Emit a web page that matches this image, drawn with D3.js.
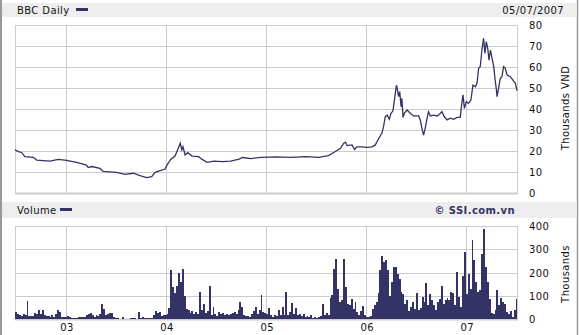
<!DOCTYPE html>
<html>
<head>
<meta charset="utf-8">
<script src="https://d3js.org/d3.v7.min.js"></script>
<style>
body { margin: 0; background: #fff; }
text { font-family: "DejaVu Sans", Verdana, sans-serif; font-size: 10px; fill: #111; letter-spacing: 0.4px; }
</style>
</head>
<body>
<script>
// price points, thousands VND
var priceDates = ["2002-06-29","2002-07-11","2002-07-23","2002-08-04","2002-09-04","2002-09-16","2002-11-04","2002-12-04",
  "2003-01-03","2003-02-09","2003-03-17","2003-03-23","2003-04-05","2003-05-05","2003-05-17","2003-07-05","2003-08-04",
  "2003-09-04","2003-09-28","2003-10-23","2003-11-10","2003-11-22","2003-12-10","2003-12-28",
  "2004-01-03","2004-01-18","2004-02-03","2004-02-15","2004-02-22","2004-02-28","2004-03-03","2004-03-11","2004-03-20",
  "2004-04-05","2004-04-29","2004-05-12","2004-05-30","2004-06-24","2004-07-25","2004-08-24","2004-09-24","2004-10-06",
  "2004-11-06","2004-12-13",
  "2005-02-06","2005-04-01","2005-05-25","2005-07-11","2005-08-16","2005-09-07","2005-09-29","2005-10-11","2005-10-17",
  "2005-10-23","2005-11-10","2005-11-19","2005-11-28","2005-12-16",
  "2006-01-03","2006-01-22","2006-02-03","2006-02-09","2006-02-19","2006-02-27","2006-03-05","2006-03-11","2006-03-18",
  "2006-03-26","2006-04-01","2006-04-08","2006-04-13","2006-04-21","2006-04-25","2006-04-29","2006-05-03","2006-05-08",
  "2006-05-11","2006-05-15","2006-05-21","2006-05-30","2006-06-11","2006-06-23","2006-07-11","2006-07-17","2006-07-23",
  "2006-07-29","2006-08-04","2006-08-11","2006-08-16","2006-08-23","2006-09-04","2006-09-16","2006-09-28","2006-10-04",
  "2006-10-13","2006-10-23","2006-11-04","2006-11-16","2006-11-28","2006-12-10","2006-12-14","2006-12-20","2006-12-25",
  "2007-01-01","2007-01-09","2007-01-18","2007-01-25","2007-02-03","2007-02-09","2007-02-15","2007-02-21","2007-02-27",
  "2007-03-05","2007-03-10","2007-03-15","2007-03-20","2007-03-25","2007-03-30","2007-04-05","2007-04-11","2007-04-17",
  "2007-04-21","2007-04-23","2007-04-29","2007-05-05","2007-05-11","2007-05-17","2007-05-23","2007-05-30","2007-06-11",
  "2007-06-20","2007-06-29","2007-07-05"];
var priceValues = [20.5,19.7,19.3,17.3,17.0,15.7,15.2,16.0,
  15.5,14.6,13.3,12.1,12.6,11.7,10.3,9.8,8.9,
  9.4,8.3,7.3,7.8,9.8,10.6,11.3,
  12.9,16.0,17.6,21.3,23.7,20.5,22.0,18.1,19.2,
  17.6,17.3,16.0,14.6,15.2,14.9,15.2,16.1,16.9,
  16.4,17.0,
  17.2,17.0,17.3,17.0,17.8,19.5,21.3,23.7,24.2,
  22.6,22.9,20.8,22.0,22.0,
  21.7,22.0,22.9,24.4,26.8,28.4,31.6,36.3,37.1,
  35.1,37.9,39.0,43.5,51.4,49.0,45.9,48.3,41.1,
  45.1,36.0,38.2,39.5,37.9,36.7,36.7,34.8,30.8,
  27.6,30.8,35.6,38.7,36.7,37.1,36.7,37.9,38.7,
  36.3,34.8,35.6,35.1,36.0,36.0,41.1,46.7,40.3,
  43.5,42.7,44.3,51.4,50.6,52.2,59.4,60.2,68.1,
  73.7,66.5,72.1,69.0,63.3,68.1,64.1,60.2,53.0,
  49.0,45.9,49.9,54.6,55.4,60.2,59.4,56.2,55.4,
  53.8,52.2,48.7];

// weekly volume, thousands of shares, first week starting 2002-06-29
var volumeStart = "2002-06-29";
var volumeValues = [30,23,18,15,22,16,77,11,13,15,27,22,39,21,37,19,13,11,7,16,
  9,21,37,30,10,8,7,13,8,3,6,3,4,8,10,7,10,16,21,26,
  16,10,18,14,21,64,42,18,21,27,27,9,3,3,1,1,9,1,0,1,
  3,6,3,1,30,3,7,3,6,3,4,3,18,33,27,30,13,18,16,22,
  47,209,137,110,140,200,159,213,99,44,37,27,33,23,30,23,116,37,66,27,
  33,142,16,51,23,13,30,22,27,18,21,16,21,27,30,22,37,73,51,16,
  11,13,9,22,33,51,22,37,104,30,27,
  23,47,16,10,18,15,37,18,51,16,116,18,30,69,23,49,16,21,11,20,
  7,15,7,16,4,10,6,9,13,64,18,27,16,90,104,216,259,130,73,80,
  259,137,66,59,84,42,73,30,18,33,56,16,7,10,13,42,59,73,111,209,
  273,245,252,209,101,159,223,223,195,173,116,109,66,80,33,51,73,42,111,37,
  47,94,73,156,59,107,80,59,37,73,87,144,66,80,90,80,116,113,59,202,
  94,51,187,287,109,195,130,338,252,159,116,123,280,385,223,159,87,26,23,37,
  123,59,90,73,66,30,23,33,9,37,87];

var priceTicks = [0, 10, 20, 30, 40, 50, 60, 70, 80];
var volumeTicks = [0, 100, 200, 300, 400];
var yearTicks = ["2003-01-01", "2004-01-01", "2005-01-01", "2006-01-01", "2007-01-01"];
var yearLabels = ["03", "04", "05", "06", "07"];

var W = 579, H = 335;
var navy = "#333366", grid = "#cccccc", band = "#eeeeee";
var parse = d3.timeParse("%Y-%m-%d");

var svg = d3.select("body").append("svg")
    .attr("width", W)
    .attr("height", H);

var x = d3.scaleTime()
    .domain([parse("2002-06-29"), parse("2007-07-05")])
    .range([15, 517]);
var yPrice = d3.scaleLinear().domain([0, 80]).range([193, 25]);
var yVol = d3.scaleLinear().domain([0, 400]).range([319, 226]);

// frame
svg.append("line").attr("x1", 1).attr("x2", 1).attr("y1", 0).attr("y2", H)
    .style("stroke", "#999").style("stroke-width", 2);
svg.append("line").attr("x1", 577.5).attr("x2", 577.5).attr("y1", 0).attr("y2", H)
    .style("stroke", "#999").style("stroke-width", 1.5);

// header bands
svg.append("rect").attr("x", 2).attr("y", 3).attr("width", 575).attr("height", 14).style("fill", band);
svg.append("rect").attr("x", 2).attr("y", 202).attr("width", 575).attr("height", 16).style("fill", band);

svg.append("text").attr("x", 17).attr("y", 13.5).text("BBC Daily");
svg.append("rect").attr("x", 76).attr("y", 8).attr("width", 12).attr("height", 3).style("fill", navy);
svg.append("text").attr("x", 564).attr("y", 13.5).attr("text-anchor", "end").text("05/07/2007");

svg.append("text").attr("x", 17).attr("y", 213.5).text("Volume");
svg.append("rect").attr("x", 60).attr("y", 208).attr("width", 12).attr("height", 3).style("fill", navy);
svg.append("text").attr("x", 515).attr("y", 214).attr("text-anchor", "end")
    .style("font-weight", "bold").style("fill", navy).text("\u00a9 SSI.com.vn");

function drawGrid(g, yScale, ticks, top, bottom) {
    g.selectAll(".hg").data(ticks).enter().append("line")
        .attr("x1", 15).attr("x2", 517)
        .attr("y1", function(d) { return Math.round(yScale(d)) + 0.5; })
        .attr("y2", function(d) { return Math.round(yScale(d)) + 0.5; })
        .style("stroke", grid);
    g.selectAll(".vg").data(yearTicks).enter().append("line")
        .attr("x1", function(d) { return Math.round(x(parse(d))) + 0.5; })
        .attr("x2", function(d) { return Math.round(x(parse(d))) + 0.5; })
        .attr("y1", top).attr("y2", bottom)
        .style("stroke", grid);
    g.append("line").attr("x1", 15.5).attr("x2", 15.5).attr("y1", top).attr("y2", bottom).style("stroke", grid);
    g.append("line").attr("x1", 517.5).attr("x2", 517.5).attr("y1", top).attr("y2", bottom).style("stroke", grid);
    g.append("line").attr("x1", 15).attr("x2", 518).attr("y1", bottom + 0.5).attr("y2", bottom + 0.5)
        .style("stroke", grid).style("stroke-width", 2);
    g.selectAll(".yl").data(ticks).enter().append("text")
        .attr("x", 529)
        .attr("y", function(d) { return yScale(d) + 4; })
        .text(function(d) { return d; });
}

// price panel
var gp = svg.append("g");
drawGrid(gp, yPrice, priceTicks, 25, 193);

var pricePoints = priceDates.map(function(d, i) { return [parse(d), priceValues[i]]; });
var line = d3.line()
    .x(function(d) { return x(d[0]); })
    .y(function(d) { return yPrice(d[1]); });
gp.append("path").datum(pricePoints)
    .attr("d", line)
    .style("fill", "none")
    .style("stroke", navy)
    .style("stroke-width", 1.3);

svg.append("text")
    .attr("transform", "translate(569,108) rotate(-90)")
    .attr("text-anchor", "middle")
    .text("Thousands VND");

// volume panel
var gv = svg.append("g");
drawGrid(gv, yVol, volumeTicks, 226, 319);

var v0 = parse(volumeStart);
gv.selectAll(".bar").data(volumeValues).enter().append("rect")
    .attr("x", function(d, i) { return x(d3.timeDay.offset(v0, 7 * i)); })
    .attr("width", function(d, i) {
        return Math.min(517, x(d3.timeDay.offset(v0, 7 * i + 7))) - x(d3.timeDay.offset(v0, 7 * i));
    })
    .attr("y", function(d) { return yVol(d); })
    .attr("height", function(d) { return yVol(0) - yVol(d); })
    .style("fill", navy)
    .attr("shape-rendering", "crispEdges");

svg.append("text")
    .attr("transform", "translate(569,274) rotate(-90)")
    .attr("text-anchor", "middle")
    .text("Thousands");

svg.selectAll(".xl").data(yearTicks).enter().append("text")
    .attr("x", function(d) { return x(parse(d)) + 1; })
    .attr("y", 331)
    .attr("text-anchor", "middle")
    .text(function(d, i) { return yearLabels[i]; });
</script>
</body>
</html>
